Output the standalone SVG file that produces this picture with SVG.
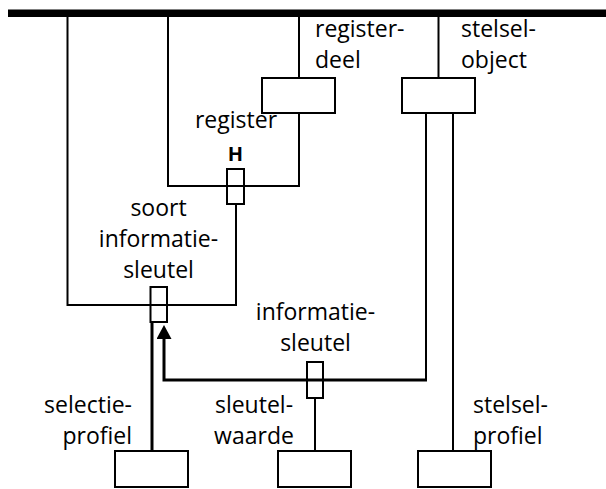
<svg xmlns="http://www.w3.org/2000/svg" width="606" height="489" viewBox="0 0 606 489">
<defs>
<style>
.ln{fill:none;stroke:#000;stroke-width:2}
.thk{fill:none;stroke:#000;stroke-width:3}
.box{fill:#fff;stroke:#000;stroke-width:2}
.sm{fill:none;stroke:#000;stroke-width:2}
text{font-family:"Open Sans","Liberation Sans",sans-serif;font-size:23px;fill:#000}
.c{text-anchor:middle}
.e{text-anchor:end}
.b{font-weight:bold;font-size:20px}
</style>
<marker id="arr" viewBox="0 0 14 15" refX="0" refY="7.5" markerWidth="14" markerHeight="15" markerUnits="userSpaceOnUse" orient="auto">
<path d="M0,0 L14,7.5 L0,15 z" fill="#000"/>
</marker>
</defs>
<rect width="606" height="489" fill="#fff"/>
<g id="connectors">
<line x1="8" y1="13.25" x2="606" y2="13.25" stroke="#000" stroke-width="7.5"/>
<path class="ln" d="M67.5,13 V305 H236 V205"/>
<path class="ln" d="M168,13 V186 H299 V114"/>
<path class="ln" d="M299,13 V78"/>
<path class="ln" d="M438.5,13 V78"/>
<path class="ln" d="M426,114 V380"/>
<path class="ln" d="M453,114 V451"/>
<path class="thk" d="M427,380 H164 V339" marker-end="url(#arr)"/>
<path class="thk" d="M152,323 V451"/>
<path class="ln" d="M315,399 V451"/>
</g>
<g id="registerdeel">
<rect class="box" x="262" y="78" width="73" height="35"/>
<text x="315" y="37">register-</text>
<text x="315" y="68">deel</text>
</g>
<g id="stelselobject">
<rect class="box" x="402" y="78" width="73" height="35"/>
<text x="461" y="37">stelsel-</text>
<text x="461" y="68">object</text>
</g>
<g id="register">
<rect class="sm" x="227" y="169" width="17" height="35"/>
<text class="c" x="236" y="128">register</text>
<text class="c b" x="235.5" y="161">H</text>
</g>
<g id="soortinformatiesleutel">
<rect class="sm" x="150.5" y="287" width="16.5" height="35"/>
<text class="c" x="158.5" y="216">soort</text>
<text class="c" x="158.5" y="247">informatie-</text>
<text class="c" x="158.5" y="278">sleutel</text>
</g>
<g id="informatiesleutel">
<rect class="sm" x="307" y="362" width="16" height="36"/>
<text class="c" x="315.5" y="320">informatie-</text>
<text class="c" x="315.5" y="351">sleutel</text>
</g>
<g id="selectieprofiel">
<rect class="box" x="115" y="451" width="73" height="36"/>
<text class="e" x="132" y="413">selectie-</text>
<text class="e" x="132" y="444">profiel</text>
</g>
<g id="sleutelwaarde">
<rect class="box" x="278" y="451" width="73" height="36"/>
<text class="c" x="254" y="413">sleutel-</text>
<text class="c" x="254" y="444">waarde</text>
</g>
<g id="stelselprofiel">
<rect class="box" x="418" y="451" width="73" height="36"/>
<text x="473" y="413">stelsel-</text>
<text x="473" y="444">profiel</text>
</g>
</svg>
